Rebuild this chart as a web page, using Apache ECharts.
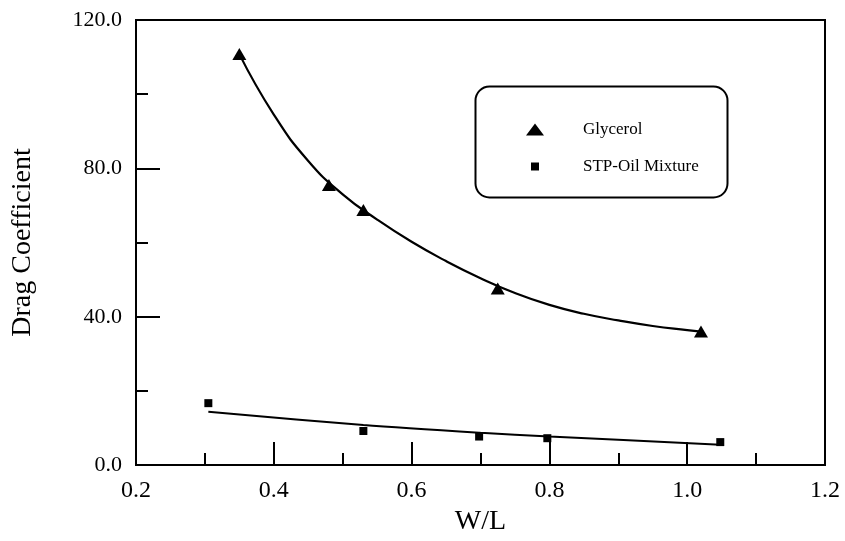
<!DOCTYPE html>
<html>
<head>
<meta charset="utf-8">
<script src="https://cdn.jsdelivr.net/npm/echarts@6/dist/echarts.min.js"></script>
<style>html,body{margin:0;padding:0;background:#fff}#c{width:845px;height:541px}</style>
</head>
<body>
<div id="c"></div>
<script>
// Measured data
var glycerolX = [0.35, 0.48, 0.53, 0.725, 1.02];
var glycerolY = [110.8, 75.5, 68.8, 47.6, 36.0];
// fitted curve
var glycerolFitX = [0.35, 0.40, 0.45, 0.50, 0.55, 0.60, 0.65, 0.70, 0.75, 0.80, 0.85, 0.90, 0.95, 1.00, 1.02];
var glycerolFitY = [110.8, 94.5, 82.0, 73.0, 66.2, 60.2, 55.0, 50.4, 46.4, 43.2, 40.8, 39.0, 37.5, 36.4, 36.0];
var stpX = [0.305, 0.53, 0.698, 0.797, 1.048];
var stpY = [16.7, 9.2, 7.7, 7.25, 6.2];
var stpFitX = [0.305, 0.53, 0.7, 0.8, 1.048];
var stpFitY = [14.4, 10.8, 8.7, 7.7, 5.5];
var xTicks = [0.2, 0.4, 0.6, 0.8, 1.0, 1.2];
var yTicks = [0, 40, 80, 120];

function pairs(xs, ys) { return xs.map(function (x, i) { return [x, ys[i]]; }); }

var FONT = "'Liberation Serif','Times New Roman',serif";
var chart = echarts.init(document.getElementById('c'), null, {renderer: 'canvas'});
chart.setOption({
  animation: false,
  backgroundColor: '#fff',
  grid: {left: 136, right: 20, top: 20, bottom: 71, show: true, borderColor: '#000', borderWidth: 2, backgroundColor: 'transparent'},
  xAxis: {
    type: 'value', min: xTicks[0], max: xTicks[xTicks.length - 1], interval: 0.2,
    name: 'W/L', nameLocation: 'middle', nameGap: 42,
    nameTextStyle: {fontFamily: FONT, fontSize: 28, color: '#000'},
    axisLine: {lineStyle: {color: '#000', width: 2}},
    axisTick: {inside: true, length: 23, lineStyle: {color: '#000', width: 2}},
    minorTick: {show: true, splitNumber: 2, length: 12, lineStyle: {color: '#000', width: 2}},
    splitLine: {show: false},
    axisLabel: {fontFamily: FONT, fontSize: 24, color: '#000', margin: 14,
      formatter: function (v) { return v.toFixed(1); }}
  },
  yAxis: {
    type: 'value', min: yTicks[0], max: yTicks[yTicks.length - 1], interval: 40,
    name: 'Drag Coefficient', nameLocation: 'middle', nameGap: 99,
    nameTextStyle: {fontFamily: FONT, fontSize: 28, color: '#000'},
    axisLine: {show: true, lineStyle: {color: '#000', width: 2}},
    axisTick: {show: true, inside: true, length: 24, lineStyle: {color: '#000', width: 2}},
    minorTick: {show: true, splitNumber: 2, length: 12, lineStyle: {color: '#000', width: 2}},
    splitLine: {show: false},
    axisLabel: {fontFamily: FONT, fontSize: 22, color: '#000', margin: 14,
      formatter: function (v) { return v.toFixed(1); }}
  },
  legend: [
    {data: ['Glycerol'], orient: 'vertical', left: 521, top: 116, itemWidth: 18, itemHeight: 12,
      selectedMode: false, textStyle: {fontFamily: FONT, fontSize: 17, color: '#000', padding: [0, 0, 0, 34]}},
    {data: ['STP-Oil Mixture'], orient: 'vertical', left: 526, top: 153, itemWidth: 8, itemHeight: 8,
      selectedMode: false, textStyle: {fontFamily: FONT, fontSize: 17, color: '#000', padding: [0, 0, 0, 39]}}
  ],
  graphic: [{
    type: 'rect', left: 473, top: 84, z: 10,
    shape: {width: 252, height: 111, r: 14},
    style: {fill: 'none', stroke: '#000', lineWidth: 2}
  }],
  series: [
    {name: 'Glycerol fit', type: 'line', data: pairs(glycerolFitX, glycerolFitY), smooth: 0.5,
      showSymbol: false, symbol: 'none', lineStyle: {color: '#000', width: 2.2}, z: 2},
    {name: 'STP fit', type: 'line', data: pairs(stpFitX, stpFitY), smooth: 0.3,
      showSymbol: false, symbol: 'none', lineStyle: {color: '#000', width: 2}, z: 2},
    {name: 'Glycerol', type: 'scatter', data: pairs(glycerolX, glycerolY), symbol: 'triangle', symbolSize: [14, 12],
      itemStyle: {color: '#000', opacity: 1}, z: 3},
    {name: 'STP-Oil Mixture', type: 'scatter', data: pairs(stpX, stpY), symbol: 'rect', symbolSize: 8,
      itemStyle: {color: '#000', opacity: 1}, z: 3}
  ]
});
</script>
</body>
</html>
